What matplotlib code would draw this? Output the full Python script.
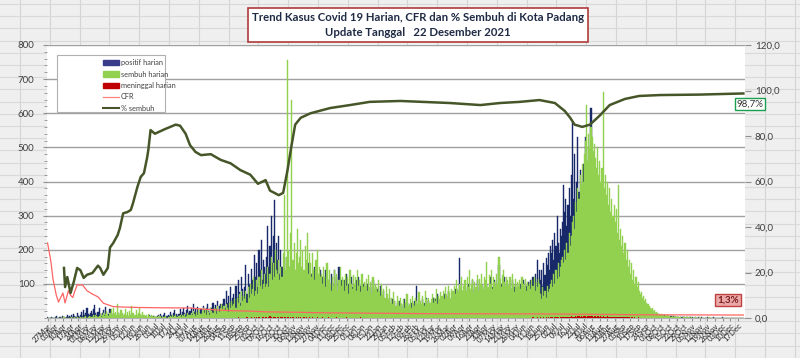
import matplotlib
matplotlib.use('Agg')
import matplotlib.pyplot as plt
import numpy as np
import pandas as pd
from matplotlib.lines import Line2D
from matplotlib.patches import Rectangle, Patch

plt.rcParams['font.family'] = ['Lato', 'DejaVu Sans']

start_date = '2020-03-27'

positif = [
2,0,1,0,3,1,0,2,5,1,
0,4,2,1,6,3,0,2,8,3,
5,2,9,4,12,6,3,15,7,4,
10,18,6,22,9,14,30,12,8,16,
20,11,25,38,15,9,18,28,12,7,
14,22,9,32,18,6,11,26,15,8,
5,12,7,3,9,15,4,2,8,6,
3,7,2,5,1,4,8,2,3,6,
2,4,1,6,3,0,5,2,7,3,
4,1,3,8,2,5,1,6,3,2,
5,9,3,12,6,2,8,15,4,7,
10,6,18,9,4,14,22,8,12,5,
12,25,9,18,30,14,8,22,35,16,
20,28,12,40,18,25,10,32,22,15,
25,18,35,22,12,30,40,20,15,28,
30,45,20,38,25,50,18,35,42,28,
40,55,30,80,45,65,35,90,50,60,
70,50,95,60,110,75,45,120,85,65,
90,155,70,130,100,80,145,110,95,185,
120,160,90,200,140,230,110,170,150,130,
180,270,150,210,300,160,240,345,190,220,
170,240,130,200,150,110,180,120,90,140,
100,150,80,120,95,130,70,140,110,90,
120,85,140,100,75,130,95,110,160,80,
95,130,70,110,150,85,120,60,100,140,
80,120,65,100,140,75,110,90,60,130,
100,70,140,90,120,60,150,80,110,95,
70,110,85,130,60,100,75,120,90,55,
90,60,110,75,120,50,95,70,100,65,
80,55,100,70,45,90,65,110,50,75,
60,85,45,70,95,40,65,80,35,55,
45,30,60,40,25,55,35,50,20,45,
30,50,25,40,20,35,55,25,45,30,
35,20,45,30,25,50,40,95,30,25,
40,30,55,25,45,35,60,30,50,40,
45,35,60,40,55,30,70,45,35,50,
55,40,70,50,65,45,80,55,40,60,
70,50,85,60,45,75,175,65,55,80,
65,90,55,75,100,60,80,70,110,55,
85,60,110,75,90,65,100,80,55,95,
70,100,60,85,120,75,90,65,110,80,
95,70,155,80,100,65,90,120,75,85,
75,95,60,85,110,70,90,100,65,80,
85,65,100,75,110,90,70,95,80,105,
90,110,80,120,95,130,100,170,115,140,
110,140,95,160,125,175,155,190,140,210,
190,230,170,250,210,300,220,190,260,240,
280,390,310,350,270,330,380,300,420,575,
350,480,320,400,530,370,435,390,360,450,
410,530,460,390,500,440,615,480,420,470,
380,430,350,400,320,370,290,340,260,300,
240,280,210,250,190,220,170,200,150,180,
140,160,120,140,100,120,90,105,80,95,
70,85,60,75,50,65,45,55,40,50,
35,45,30,40,25,35,20,30,18,25,
15,22,12,18,10,15,8,12,7,10,
6,9,5,8,4,6,3,5,4,6,
3,5,2,4,3,2,4,1,3,2,
2,3,1,2,4,1,2,3,1,2,
1,2,0,1,3,1,0,2,1,0,
1,0,2,1,0,1,0,1,2,0,
0,1,0,0,1,0,2,0,1,0,
1,0,0,1,0,0,1,0,0,0,
0,1,0,0,1,0,
]

sembuh = [
0,0,0,0,0,0,0,0,1,0,
0,0,1,0,0,2,0,1,0,0,
1,0,2,0,1,3,0,2,1,0,
2,1,4,0,3,5,1,2,6,3,
4,2,8,3,10,6,2,5,12,4,
8,15,5,12,20,9,6,14,25,10,
30,12,18,8,40,15,10,22,14,6,
12,25,8,18,6,20,10,35,14,7,
10,22,8,15,28,12,6,18,9,5,
8,4,12,6,3,9,5,2,7,4,
3,5,2,6,1,4,3,2,5,1,
2,4,6,3,8,2,5,9,4,3,
5,8,3,10,6,12,4,7,15,9,
10,14,8,20,12,6,18,9,25,15,
12,20,30,15,22,10,25,18,8,28,
20,15,30,25,12,35,22,18,28,40,
25,35,20,40,30,18,45,28,50,35,
40,55,30,60,45,70,35,80,50,65,
55,80,45,90,60,100,70,85,120,65,
80,110,70,120,95,140,85,100,130,90,
100,150,90,130,180,110,160,120,200,140,
130,170,110,150,120,190,360,140,180,755,
200,150,250,640,170,220,140,190,260,160,
180,230,150,200,140,210,170,250,130,190,
160,120,190,140,110,170,200,130,150,120,
130,100,150,120,90,160,110,140,100,80,
120,90,140,100,130,80,110,150,95,120,
110,80,130,95,120,70,140,100,85,125,
100,120,80,140,95,110,75,130,90,105,
95,115,80,125,90,105,70,120,85,100,
90,75,110,80,65,100,70,85,60,95,
70,55,85,45,60,40,75,50,35,65,
50,35,60,40,25,55,30,45,70,35,
40,55,30,65,45,35,60,50,40,75,
50,40,65,45,35,80,55,40,60,45,
55,70,45,60,50,85,40,65,55,75,
65,80,55,90,70,60,95,75,55,85,
80,95,70,110,85,75,100,90,120,80,
95,110,80,120,90,140,85,100,115,75,
105,90,125,80,115,100,130,95,85,120,
110,165,90,125,100,140,85,120,105,95,
130,100,180,115,90,125,140,105,95,120,
110,95,120,85,130,100,75,115,90,105,
95,110,85,120,100,90,115,80,105,95,
100,85,110,95,120,80,105,90,115,100,
70,55,90,65,80,60,95,75,85,100,
110,90,130,100,140,115,160,120,150,170,
180,160,200,170,220,190,250,210,240,280,
300,260,340,310,380,350,420,390,450,400,
480,520,625,460,540,500,560,530,490,510,
470,440,500,420,460,400,440,662,380,420,
360,400,330,380,310,350,300,330,280,320,
250,390,230,260,210,240,190,220,170,200,
150,170,130,160,110,140,100,120,90,105,
80,70,75,60,65,50,55,45,40,35,
30,25,28,20,22,15,18,14,12,10,
12,8,10,7,9,6,8,5,6,4,
5,3,4,6,2,4,3,2,3,1,
3,2,1,3,2,1,2,1,2,1,
1,2,1,0,1,2,0,1,1,0,
0,1,1,0,2,0,1,0,1,0,
1,0,0,1,0,1,0,0,1,0,
0,1,0,0,1,0,0,0,1,0,
0,0,1,0,0,1,
]

meninggal = [
1,0,0,0,0,0,0,0,0,0,
0,0,1,0,0,0,0,0,0,0,
0,0,0,1,0,0,0,0,1,0,
0,0,0,0,1,0,0,0,0,0,
0,1,0,0,0,0,0,1,0,0,
0,0,0,0,0,1,0,0,0,0,
0,0,0,0,0,0,0,0,0,0,
0,0,0,0,0,0,0,0,0,0,
0,0,0,0,0,0,0,0,0,0,
0,0,0,0,0,0,0,0,0,0,
0,0,0,0,0,0,0,0,0,0,
0,0,0,0,0,0,0,0,0,1,
0,0,0,0,0,0,0,0,0,0,
0,0,1,0,0,0,0,0,0,0,
0,0,0,0,1,0,0,0,0,0,
0,1,0,0,0,0,1,0,0,0,
1,0,0,1,0,0,0,1,0,0,
0,1,0,0,2,0,1,0,0,1,
1,0,2,0,1,0,3,1,0,2,
1,2,0,3,1,0,2,4,1,2,
3,1,2,5,2,1,3,2,4,1,
2,3,1,2,4,1,2,3,1,2,
2,1,3,1,2,0,1,2,1,3,
1,2,0,1,3,1,2,1,0,2,
1,0,2,1,1,0,2,1,0,1,
1,2,0,1,0,1,2,0,1,1,
0,1,1,0,2,0,1,0,1,0,
1,0,1,2,0,1,0,1,0,1,
0,1,0,1,1,0,2,0,1,0,
1,0,1,0,0,1,0,1,0,1,
0,1,0,0,1,0,0,1,0,0,
1,0,0,1,0,0,1,0,0,0,
0,1,0,0,0,1,0,0,1,0,
0,0,1,0,0,0,1,0,0,0,
1,0,0,0,1,0,0,0,1,0,
0,0,1,0,0,1,0,0,0,1,
0,1,0,0,1,0,0,1,0,0,
1,0,0,1,0,1,0,0,1,0,
0,1,0,1,0,0,1,0,1,0,
1,0,1,0,0,1,0,1,0,1,
0,1,0,1,1,0,1,0,1,0,
1,0,1,0,1,1,0,1,0,1,
0,1,1,0,1,0,1,1,0,1,
1,0,1,1,0,1,0,1,1,0,
1,1,0,2,1,0,1,2,1,1,
2,1,1,2,0,2,1,3,1,2,
2,3,1,2,3,2,3,1,3,2,
3,4,2,3,4,3,4,3,5,4,
4,3,5,4,5,6,4,5,4,6,
5,6,4,6,5,5,6,5,4,6,
5,4,6,5,4,5,4,5,4,4,
4,5,3,4,4,3,4,3,3,4,
3,3,4,2,3,3,2,3,2,3,
2,3,1,2,2,1,2,1,1,2,
1,1,0,1,1,0,1,0,1,0,
1,0,0,1,0,0,1,0,0,0,
0,1,0,0,0,0,0,1,0,0,
0,0,0,0,1,0,0,0,0,0,
0,0,0,0,0,0,0,0,0,0,
0,0,0,0,0,0,0,0,0,0,
0,0,0,0,0,0,0,0,0,0,
0,0,0,0,0,0,0,0,0,0,
0,0,0,0,0,0,0,0,0,0,
0,0,0,0,0,0,
]

# CFR (%) line, right axis: day index since 27 Mar 2020 and value
cfr_day = [0,3,5,8,10,12,14,16,19,21,23,25,27,32,36,41,46,51,55,60,70,85,103,130,140,155,170,185,200,230,250,300,350,450,500,550,635]
cfr_val = [33,25,17,10,7,9,11,6.6,12,10,9,12,14.5,14.5,12,10.5,9.3,6.5,5.8,5.0,4.8,4.6,4.5,4.4,4.0,3.5,3.2,3.0,2.7,2.5,2.3,2.1,1.9,1.8,1.6,1.4,1.3]

# % sembuh line, right axis
pct_day = [15,16,18,21,24,27,30,33,36,41,46,48,51,55,57,60,64,66,69,73,76,78,82,85,88,91,92,94,98,107,117,121,126,130,135,140,149,158,167,176,185,192,199,203,211,215,219,222,226,231,240,258,276,294,322,367,395,413,431,449,463,472,477,481,488,495,504,513,527,540,559,595,635]
pct_val = [22,13.6,18,11,16,22,21,17.6,19,19.8,23,22,19,22,31,33,36.5,39.5,46,46.6,47.5,50.5,57.6,62,63.7,70.8,74,82.6,81,83,85,84.5,81,76,73,71.6,72,69.5,68,65,63,59,60.6,56,54,55,65,74,85,88,90,92.3,93.6,95,95.4,94.5,93.6,94.5,95,95.8,94.5,91,88,85,84,85,89,93.6,96.3,97.6,98,98.2,98.7]

series_names = ['positif harian', 'sembuh harian', 'meninggal harian', 'CFR', '% sembuh']
title_text = 'Trend Kasus Covid 19 Harian, CFR dan % Sembuh di Kota Padang\nUpdate Tanggal   22 Desember 2021'

W, H = 800, 358
fig = plt.figure(figsize=(W/100, H/100), dpi=100, facecolor='#efefef')

# spreadsheet background grid
for xp in np.arange(20, W, 29.8):
    fig.add_artist(Line2D([xp/W, xp/W], [0, 1], color='#d4d4d4', lw=0.8, zorder=-5))
for yp in np.arange(4, H, 12.2):
    fig.add_artist(Line2D([0, 1], [1-yp/H, 1-yp/H], color='#d9d9d9', lw=0.8, zorder=-5))

ax = fig.add_axes([47/W, 1-318/H, 698/W, 273/H])
ax.set_facecolor('white')
days = np.arange(len(positif))
ax.bar(days, positif, width=1.0, color='#18296a', edgecolor='#18296a', linewidth=0.3, zorder=2)
ax.bar(days, sembuh, width=1.0, color='#92d050', edgecolor='#92d050', linewidth=0.3, zorder=3)
ax.bar(days, meninggal, width=1.0, color='#c00000', linewidth=0, zorder=4)
ax.set_xlim(-0.5, len(positif) + 0.5)
ax.set_ylim(0, 800)
ax.set_yticks(range(100, 900, 100))
ax.set_yticklabels([str(v) for v in range(100, 900, 100)], fontsize=7, color='#404040')
ax.set_yticks(range(0, 801, 20), minor=True)
ax.yaxis.grid(True, which='major', color='#a0a0a0', lw=1.0)
ax.set_axisbelow(True)
ax.tick_params(axis='y', which='both', direction='out', length=3, color='#909090', pad=6)
ax.tick_params(axis='y', which='minor', length=2)

tick_dates = pd.date_range(start_date, periods=len(positif), freq='D')[::7]
tick_pos = days[::7]
ax.set_xticks(tick_pos)
ax.set_xticklabels([d.strftime('%d%b') for d in tick_dates], rotation=45, ha='right',
                   rotation_mode='anchor', fontsize=5.6, color='#222222')
ax.tick_params(axis='x', direction='out', length=2, color='#909090', pad=1)
for s in ['left', 'right', 'top']:
    ax.spines[s].set_visible(False)
ax.spines['bottom'].set_color('#b0b0b0')

ax2 = ax.twinx()
ax2.set_ylim(0, 120)
ax2.plot(cfr_day, cfr_val, color='#ff6464', lw=0.9, zorder=5)
ax2.plot(pct_day, pct_val, color='#465628', lw=1.8, zorder=6)
ax2.set_yticks(range(0, 121, 20))
ax2.set_yticklabels([f'{v},0' for v in range(0, 121, 20)], fontsize=7, color='#404040')
ax2.tick_params(axis='y', direction='out', length=4, color='#909090', pad=3)
for s in ['left', 'right', 'top', 'bottom']:
    ax2.spines[s].set_visible(False)

# title box
fig.text(418/W, 1-25/H, title_text, ha='center', va='center', fontsize=8.2, fontweight='bold',
         color='#1f2a44', linespacing=1.35,
         bbox=dict(boxstyle='square,pad=0.35', fc='white', ec='#b03a3a', lw=1.2))

# legend
fig.add_artist(Rectangle((57/W, 1-112/H), 108/W, 57/H, transform=fig.transFigure,
                         fc='white', ec='#b0b0b0', lw=0.8, zorder=10))
handles = [Patch(color='#3b3b8c'), Patch(color='#92d050'), Patch(color='#c00000'),
           Line2D([], [], color='#ff8080', lw=0.9), Line2D([], [], color='#465628', lw=1.5)]
leg = fig.legend(handles, series_names, loc='upper left', bbox_to_anchor=(98/W, 1-54/H),
                 bbox_transform=fig.transFigure, frameon=False, fontsize=5.3, handlelength=2.1,
                 handleheight=0.7, labelspacing=0.6, handletextpad=0.3, borderpad=0.2)
leg.set_zorder(11)
for t in leg.get_texts():
    t.set_color('#404040')

# value boxes
fig.text(750/W, 1-104/H, '98,7%', ha='center', va='center', fontsize=7, color='#333333',
         bbox=dict(boxstyle='square,pad=0.2', fc='white', ec='#1aa050', lw=1.0), zorder=12)
fig.text(728/W, 1-300/H, '1,3%', ha='center', va='center', fontsize=7, color='#7a1a1a', fontweight='bold',
         bbox=dict(boxstyle='square,pad=0.2', fc='#eba8a8', ec='#c04040', lw=1.0), zorder=12)

fig.savefig('out.png', dpi=100, facecolor=fig.get_facecolor())
